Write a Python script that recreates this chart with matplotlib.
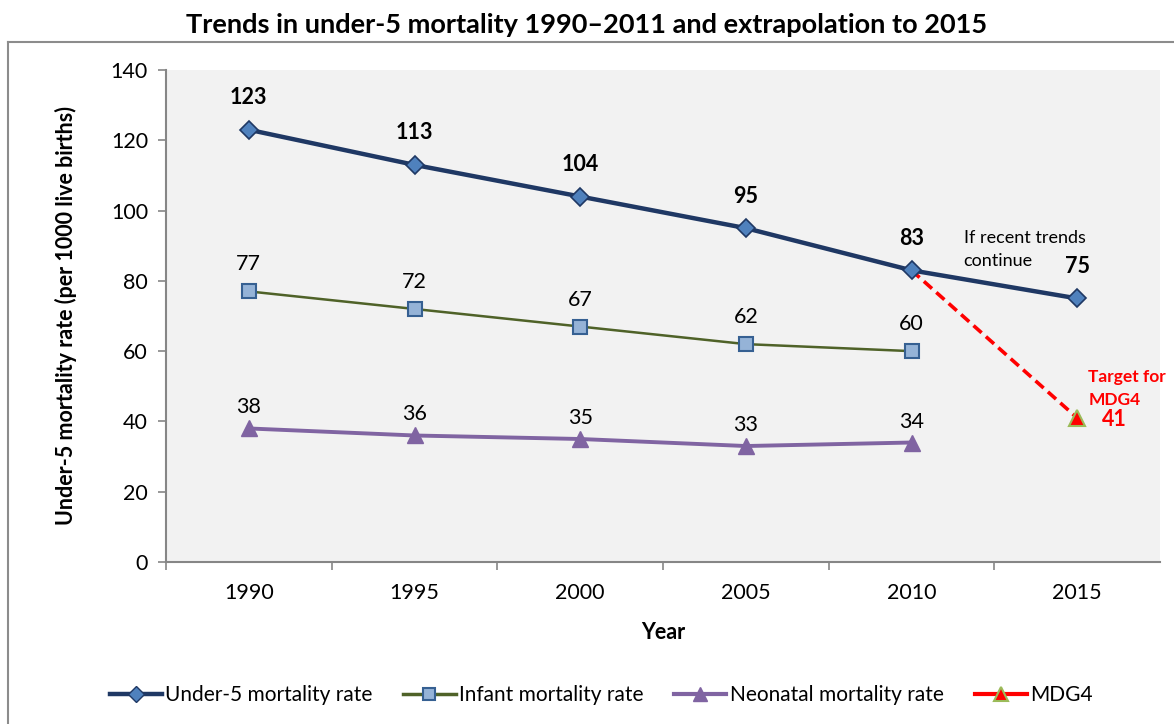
import matplotlib
matplotlib.use("Agg")
import matplotlib.pyplot as plt
from matplotlib.lines import Line2D
import numpy as np

plt.rcParams['font.family'] = ['Lato', 'DejaVu Sans']

years = ["1990", "1995", "2000", "2005", "2010", "2015"]
under5 = [123, 113, 104, 95, 83, 75]
infant = [77, 72, 67, 62, 60]
neonatal = [38, 36, 35, 33, 34]
mdg4_years = ["2010", "2015"]
mdg4 = [83, 41]

pos = {y: i + 0.5 for i, y in enumerate(years)}
x_all = [pos[y] for y in years]

fig = plt.figure(figsize=(11.74, 7.24), dpi=100)
ax = fig.add_axes([166 / 1174, 1 - 562 / 724, (1160 - 166) / 1174, (562 - 70) / 724])
ax.set_facecolor('#F2F2F2')

# outer chart frame (top and left edges)
fig.add_artist(Line2D([8 / 1174, 8 / 1174], [0, 1 - 42 / 724], transform=fig.transFigure,
                      color='#8C8C8C', lw=1.5))
fig.add_artist(Line2D([8 / 1174, 1], [1 - 42 / 724, 1 - 42 / 724], transform=fig.transFigure,
                      color='#8C8C8C', lw=1.5))

fs = 15.5
navy = '#1F3864'
ax.plot(x_all, under5, color=navy, lw=3.2, marker='D', ms=9, mfc='#4F81BD', mec=navy,
        mew=1.2, zorder=5, label='Under-5 mortality rate')
x_inf = x_all[:len(infant)]
ax.plot(x_inf, infant, color='#4F6228', lw=1.8, marker='s', ms=9.5, mfc='#95B3D7',
        mec='#366092', mew=1.5, zorder=4, label='Infant mortality rate')
x_neo = x_all[:len(neonatal)]
ax.plot(x_neo, neonatal, color='#8064A2', lw=2.8, marker='^', ms=11, mfc='#8064A2',
        mec='#8064A2', zorder=4, label='Neonatal mortality rate')

xm = [pos[y] for y in mdg4_years]
ax.plot(xm, mdg4, color='#FF0000', lw=2.6, ls=(0, (3, 1.6)), zorder=3)
ax.plot(xm[-1], mdg4[-1], ls='none', marker='^', ms=12, mfc='#FF0000', mec='#9BBB59',
        mew=1.5, zorder=6)

# data labels
for x, v in zip(x_all, under5):
    ax.annotate(str(v), (x, v), xytext=(0, 32), textcoords='offset pixels', ha='center',
                va='center', fontsize=fs, fontweight='bold', color='black')
for x, v in zip(x_inf, infant):
    ax.annotate(str(v), (x, v), xytext=(0, 27), textcoords='offset pixels', ha='center',
                va='center', fontsize=fs, color='black')
for x, v in zip(x_neo, neonatal):
    ax.annotate(str(v), (x, v), xytext=(0, 21), textcoords='offset pixels', ha='center',
                va='center', fontsize=fs, color='black')

# trend note beside the 2010 point
p2010 = (pos['2010'], under5[4])
ax.annotate('If recent trends', p2010, xytext=(52, 32), textcoords='offset pixels',
            ha='left', va='center', fontsize=13)
ax.annotate('continue', p2010, xytext=(52, 9), textcoords='offset pixels',
            ha='left', va='center', fontsize=13)

# MDG4 target note
ptgt = (xm[-1], mdg4[-1])
ax.annotate('Target for', ptgt, xytext=(11, 41), textcoords='offset pixels',
            ha='left', va='center', fontsize=12.5, fontweight='bold', color='#FF0000')
ax.annotate('MDG4', ptgt, xytext=(11, 18), textcoords='offset pixels',
            ha='left', va='center', fontsize=12.5, fontweight='bold', color='#FF0000')
ax.annotate(str(mdg4[-1]), ptgt, xytext=(25, -2), textcoords='offset pixels',
            ha='left', va='center', fontsize=fs, fontweight='bold', color='#FF0000')

ax.set_xlim(0, 6)
ax.set_ylim(0, 140)
ax.set_yticks(np.arange(0, 141, 20))
ax.set_xticks(np.arange(0, 6, 1))
ax.set_xticks(x_all, minor=True)
ax.set_xticklabels([])
ax.set_xticklabels(years, minor=True)
ax.tick_params(axis='x', which='major', direction='out', length=6, color='#868686', width=1.2)
ax.tick_params(axis='x', which='minor', length=0, pad=15, labelsize=fs)
ax.tick_params(axis='y', direction='out', length=6, color='#868686', width=1.2,
               labelsize=fs, pad=7)
for s in ('top', 'right'):
    ax.spines[s].set_visible(False)
for s in ('left', 'bottom'):
    ax.spines[s].set_color('#868686')
    ax.spines[s].set_linewidth(1.5)

ax.set_xlabel('Year', fontsize=fs, fontweight='bold', labelpad=14)
ax.set_ylabel('Under-5 mortality rate (per 1000 live births)', fontsize=fs,
              fontweight='bold', labelpad=24)
fig.text(0.5, 1 - 25 / 724, 'Trends in under-5 mortality 1990–2011 and extrapolation to 2015',
         ha='center', va='center', fontsize=19.5, fontweight='bold')

handles = [
    Line2D([], [], color=navy, lw=3.2, marker='D', ms=8, mfc='#4F81BD', mec=navy),
    Line2D([], [], color='#4F6228', lw=2.5, marker='s', ms=8, mfc='#95B3D7', mec='#366092', mew=1.5),
    Line2D([], [], color='#8064A2', lw=3, marker='^', ms=10, mfc='#8064A2', mec='#8064A2'),
    Line2D([], [], color='#FF0000', lw=3, marker='^', ms=10, mfc='#FF0000', mec='#9BBB59', mew=1.5),
]
labels = ['Under-5 mortality rate', 'Infant mortality rate', 'Neonatal mortality rate', 'MDG4']
fig.legend(handles, labels, loc='center', bbox_to_anchor=(0.512, 1 - 695 / 724), ncol=4,
           frameon=False, fontsize=15, handlelength=2.5, handletextpad=0.15, columnspacing=1.5)

fig.savefig('out.png', dpi=100)
